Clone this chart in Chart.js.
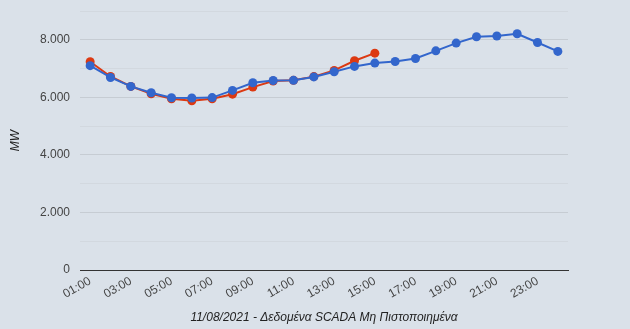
<!DOCTYPE html>
<html>
<head>
<meta charset="utf-8">
<script src="https://cdn.jsdelivr.net/npm/chart.js@4"></script>
<style>
html,body{margin:0;padding:0;background:#dae1e9;}
#wrap{width:630px;height:329px;position:relative;}
</style>
</head>
<body>
<div id="wrap"><canvas id="c" width="630" height="329"></canvas></div>
<script>
const hours = ["01:00","02:00","03:00","04:00","05:00","06:00","07:00","08:00","09:00","10:00","11:00","12:00",
               "13:00","14:00","15:00","16:00","17:00","18:00","19:00","20:00","21:00","22:00","23:00","24:00"];
const scadaLoad = [7235,6725,6380,6125,5950,5880,5950,6110,6355,6565,6590,6720,6935,7270,7535];
const forecastLoad = [7100,6690,6380,6160,5985,5975,5990,6240,6505,6585,6590,6710,6890,7075,7190,7245,7350,7615,7885,8105,8130,8210,7905,7595];
const yTicks = [0,2000,4000,6000,8000];
const xTitle = "11/08/2021 - Δεδομένα SCADA Μη Πιστοποιημένα";
const yTitle = "MW";

const fmt = v => v.toLocaleString('de-DE');

new Chart(document.getElementById('c'), {
  type: 'line',
  data: {
    labels: hours,
    datasets: [
      {
        label: 'Forecast',
        data: forecastLoad,
        borderColor: '#3366cc',
        backgroundColor: '#3366cc',
        borderWidth: 2,
        pointRadius: 4.5,
        pointHoverRadius: 4.5,
        pointBorderWidth: 0,
        tension: 0,
        order: 1
      },
      {
        label: 'SCADA',
        data: scadaLoad,
        borderColor: '#dc3912',
        backgroundColor: '#dc3912',
        borderWidth: 2,
        pointRadius: 4.5,
        pointHoverRadius: 4.5,
        pointBorderWidth: 0,
        tension: 0,
        order: 2
      }
    ]
  },
  options: {
    responsive: false,
    animation: false,
    devicePixelRatio: 1,
    layout: { padding: { top: 11, right: 62, left: 0, bottom: 4 } },
    plugins: { legend: { display: false }, tooltip: { enabled: false } },
    scales: {
      x: {
        offset: true,
        grid: { display: false, drawTicks: false },
        border: { display: true, color: '#333333', width: 1 },
        ticks: {
          autoSkip: false,
          maxRotation: 30,
          minRotation: 30,
          padding: 4,
          color: '#444444',
          font: { family: 'Liberation Sans', size: 12 },
          callback: function(v, i) { return i % 2 === 0 ? hours[i] : ''; }
        },
        title: {
          display: true,
          text: xTitle,
          color: '#222222',
          font: { family: 'Liberation Sans', size: 12, style: 'italic' },
          padding: { top: 0, bottom: 0 }
        },
        afterFit: s => { s.height = 55; s.paddingLeft = 0; s.paddingRight = 0; }
      },
      y: {
        min: 0,
        max: 9000,
        border: { display: false },
        grid: {
          drawTicks: false,
          lineWidth: 1,
          color: ctx => {
            const v = ctx.tick.value;
            if (v === 0) return 'rgba(0,0,0,0)';
            return (v % 2000 === 0) ? '#c6ccd3' : '#d2d8df';
          }
        },
        ticks: {
          stepSize: 1000,
          padding: 10,
          color: '#444444',
          font: { family: 'Liberation Sans', size: 12 },
          callback: v => (yTicks.includes(v) ? fmt(v) : '')
        },
        title: {
          display: true,
          text: yTitle,
          color: '#222222',
          font: { family: 'Liberation Sans', size: 12, style: 'italic' },
          padding: { top: 8, bottom: 0 }
        },
        afterFit: s => { s.width = 80; s.paddingTop = 0; s.paddingBottom = 0; }
      }
    }
  }
});
</script>
</body>
</html>
